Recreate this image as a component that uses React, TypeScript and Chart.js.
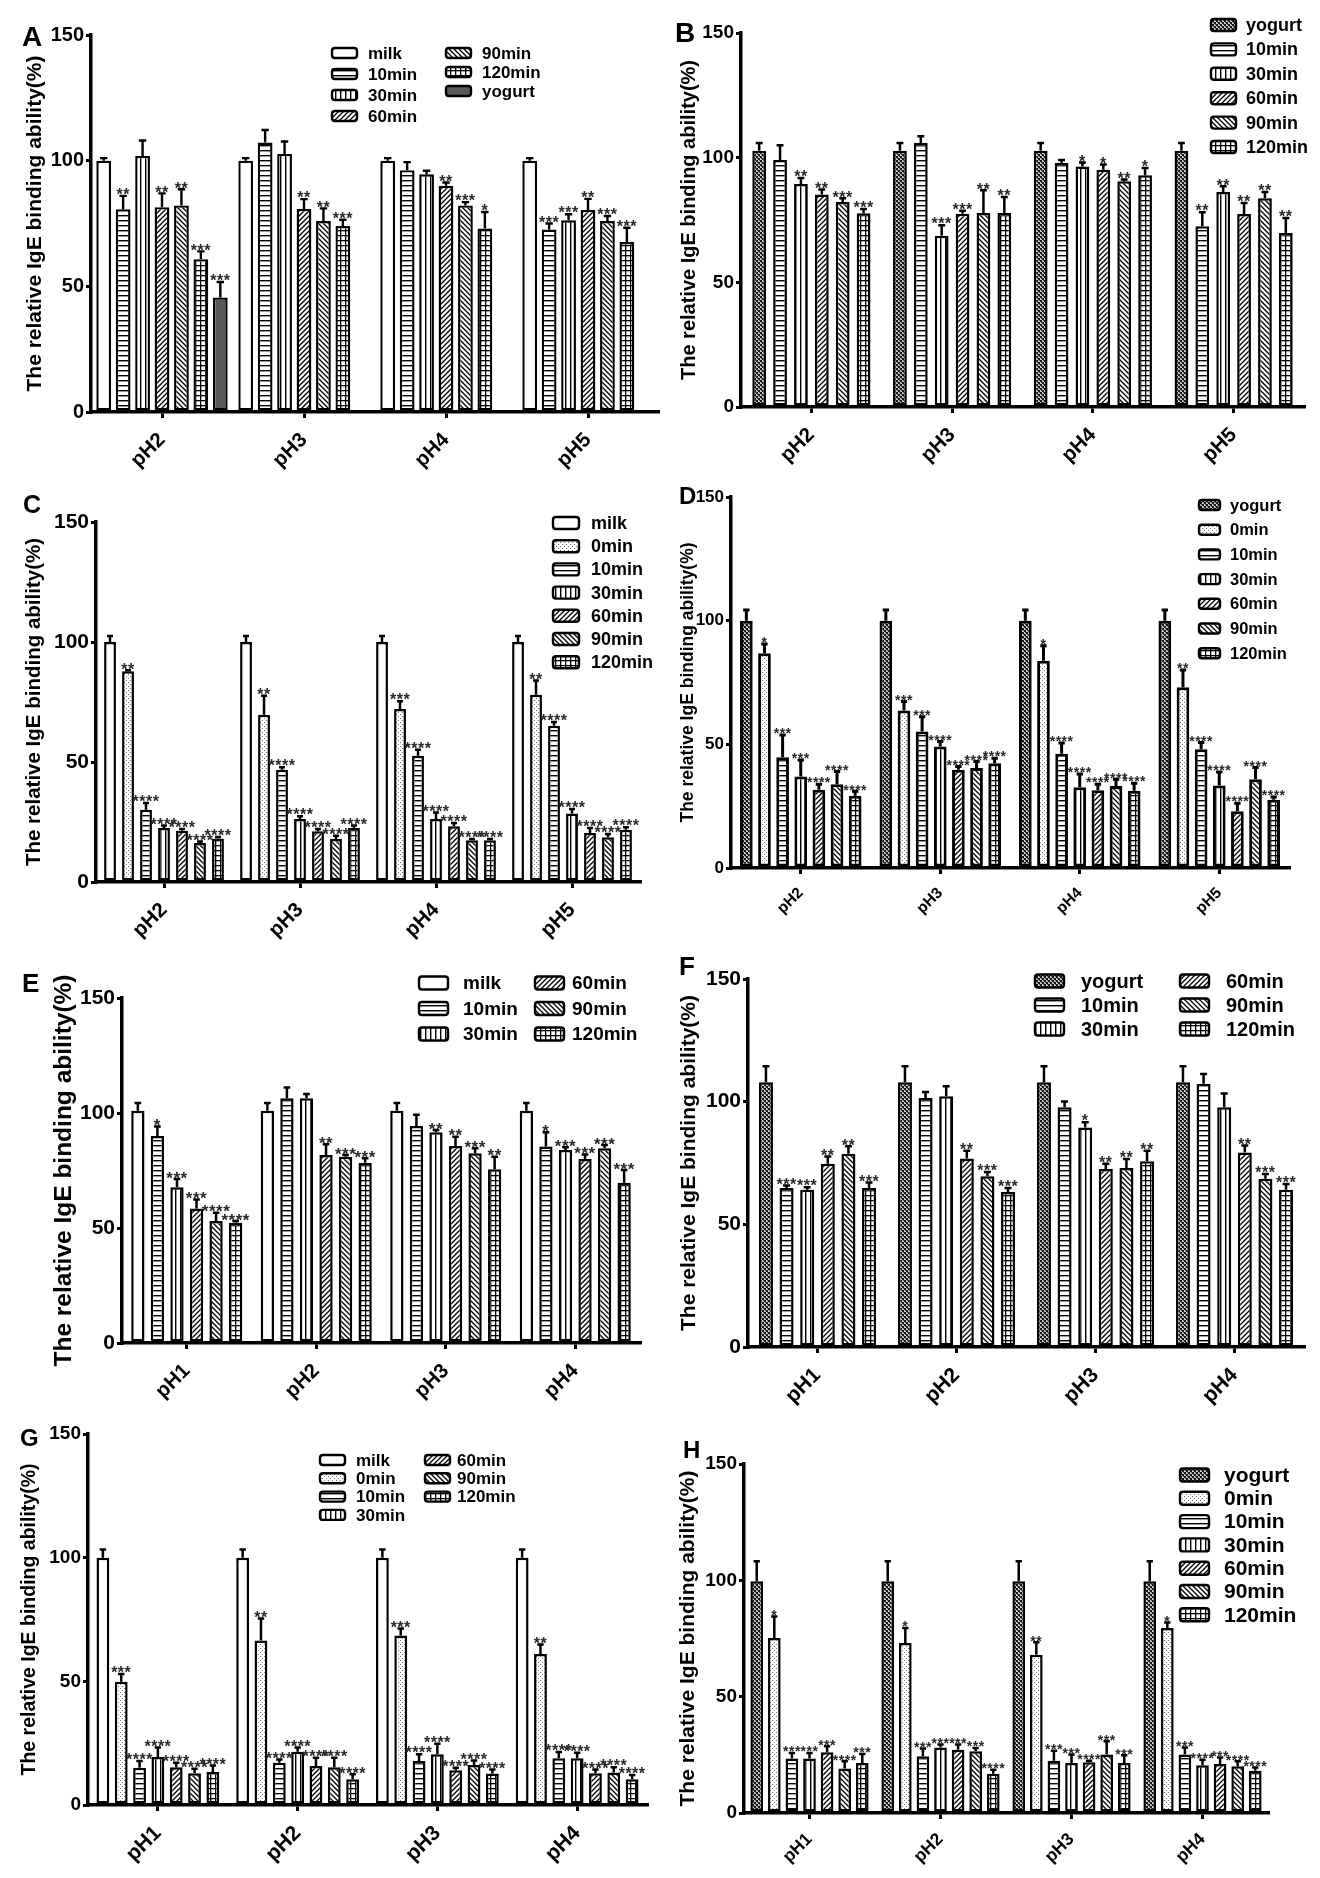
import React, { useEffect, useRef } from 'react';
import { Chart, registerables } from 'chart.js';

Chart.register(...registerables);

const FAMILY = '"Liberation Sans", Arial, Helvetica, sans-serif';
const Y_TITLE = 'The relative IgE binding ability(%)';
const Y_MIN = 0;
const Y_MAX = 150;
const Y_STEP = 50;

const CATS_PH2_5 = ['pH2', 'pH3', 'pH4', 'pH5'];
const CATS_PH1_4 = ['pH1', 'pH2', 'pH3', 'pH4'];

// ---------- Panel A ----------
const A_SERIES = ['milk', '10min', '30min', '60min', '90min', '120min', 'yogurt'];
const A_VALUES = [
  [100, 100, 100, 100],
  [80.7, 107.2, 96.2, 72.6],
  [101.9, 102.7, 94.6, 76.3],
  [81.5, 80.8, 90.0, 80.4],
  [82.2, 76.0, 82.2, 76.0],
  [60.8, 74.0, 73.0, 67.6],
  [45.6, null, null, null],
];
const A_ERRORS = [
  [1, 1, 1, 1],
  [5.3, 5.0, 3.2, 2.4],
  [6.1, 4.9, 1.4, 2.4],
  [5.5, 3.9, 1.3, 4.4],
  [6.4, 5.0, 1.3, 2.0],
  [3.1, 2.5, 6.6, 5.7],
  [6.1, null, null, null],
];
const A_STARS = [
  ['', '', '', ''],
  ['**', '', '', '***'],
  ['', '', '', '***'],
  ['**', '**', '**', '**'],
  ['**', '**', '***', '***'],
  ['***', '***', '*', '***'],
  ['***', '', '', ''],
];

// ---------- Panel B ----------
const B_SERIES = ['yogurt', '10min', '30min', '60min', '90min', '120min'];
const B_VALUES = [
  [102.8, 102.8, 102.8, 102.8],
  [99.1, 105.9, 97.9, 72.5],
  [89.4, 68.7, 96.5, 86.2],
  [85.2, 77.5, 95.2, 77.4],
  [82.2, 77.8, 90.5, 83.7],
  [77.7, 77.8, 92.9, 69.8],
];
const B_ERRORS = [
  [3.1, 3.1, 3.1, 3.1],
  [5.9, 2.7, 1.2, 5.6],
  [2.4, 4.2, 1.6, 2.3],
  [2.0, 1.2, 2.1, 4.4],
  [1.5, 9.1, 0.7, 2.5],
  [1.7, 6.4, 3.0, 6.0],
];
const B_STARS = [
  ['', '', '', ''],
  ['', '', '', '**'],
  ['**', '***', '*', '**'],
  ['**', '***', '*', '**'],
  ['***', '**', '**', '**'],
  ['***', '**', '*', '**'],
];

// ---------- Panel C ----------
const C_SERIES = ['milk', '0min', '10min', '30min', '60min', '90min', '120min'];
const C_VALUES = [
  [100, 100, 100, 100],
  [87.8, 69.7, 72.1, 78.0],
  [30.1, 46.8, 52.6, 65.1],
  [22.5, 26.3, 26.3, 28.5],
  [21.4, 21.1, 23.2, 20.4],
  [16.3, 17.9, 17.4, 18.6],
  [18.1, 22.5, 17.4, 21.8],
];
const C_ERRORS = [
  [2.5, 2.5, 2.5, 2.5],
  [0.4, 7.9, 3.2, 6.0],
  [2.8, 1.0, 2.5, 1.6],
  [1.0, 1.1, 2.7, 1.9],
  [0.7, 1.0, 1.4, 2.1],
  [0.6, 1.4, 0.5, 1.4],
  [0.7, 1.0, 0.5, 1.0],
];
const C_STARS = [
  ['', '', '', ''],
  ['**', '**', '***', '**'],
  ['****', '****', '****', '****'],
  ['****', '****', '****', '****'],
  ['****', '****', '****', '****'],
  ['****', '****', '****', '****'],
  ['****', '****', '****', '****'],
];

// ---------- Panel D ----------
const D_SERIES = ['yogurt', '0min', '10min', '30min', '60min', '90min', '120min'];
const D_VALUES = [
  [100, 100, 100, 100],
  [86.8, 63.7, 83.8, 73.1],
  [44.8, 55.2, 46.2, 48.0],
  [37.0, 49.1, 32.6, 33.4],
  [31.6, 39.7, 31.4, 22.9],
  [33.9, 40.4, 33.2, 35.9],
  [29.2, 42.4, 31.2, 27.6],
];
const D_ERRORS = [
  [4.3, 4.3, 4.3, 4.3],
  [3.8, 3.6, 6.1, 7.0],
  [9.0, 6.0, 4.3, 2.7],
  [6.7, 2.0, 5.4, 5.4],
  [2.3, 1.3, 2.5, 3.3],
  [5.1, 2.7, 2.7, 4.7],
  [1.8, 2.0, 3.1, 1.1],
];
const D_STARS = [
  ['', '', '', ''],
  ['*', '***', '*', '**'],
  ['***', '***', '****', '****'],
  ['***', '****', '****', '****'],
  ['****', '****', '****', '****'],
  ['****', '****', '****', '****'],
  ['****', '****', '****', '****'],
];

// ---------- Panel E ----------
const E_SERIES = ['milk', '10min', '30min', '60min', '90min', '120min'];
const E_VALUES = [
  [101, 101, 101, 101],
  [90.0, 106.4, 94.4, 85.4],
  [67.7, 106.4, 91.6, 83.9],
  [58.5, 81.7, 85.7, 80.0],
  [53.0, 81.0, 82.5, 84.7],
  [52.3, 78.4, 75.5, 69.7],
];
const E_ERRORS = [
  [3.3, 3.3, 3.3, 3.3],
  [4.1, 4.7, 4.8, 6.2],
  [3.6, 1.9, 1.0, 1.2],
  [3.9, 4.7, 4.0, 2.0],
  [3.6, 0.7, 2.2, 1.4],
  [0.7, 1.9, 5.5, 5.5],
];
const E_STARS = [
  ['', '', '', ''],
  ['*', '', '', '*'],
  ['***', '', '**', '***'],
  ['***', '**', '**', '***'],
  ['****', '***', '***', '***'],
  ['****', '***', '**', '***'],
];

// ---------- Panel F ----------
const F_SERIES = ['yogurt', '10min', '30min', '60min', '90min', '120min'];
const F_VALUES = [
  [107.9, 107.9, 107.9, 107.9],
  [64.8, 101.5, 97.7, 107.3],
  [64.1, 102.2, 89.5, 97.7],
  [74.7, 76.8, 72.6, 79.3],
  [78.8, 69.6, 73.0, 68.6],
  [64.8, 63.2, 75.7, 64.1],
];
const F_ERRORS = [
  [6.5, 6.5, 6.5, 6.5],
  [1.0, 2.4, 2.4, 4.0],
  [1.0, 4.1, 2.1, 5.6],
  [3.0, 3.2, 2.1, 2.8],
  [3.0, 1.7, 3.6, 1.9],
  [2.3, 1.6, 4.3, 2.3],
];
const F_STARS = [
  ['', '', '', ''],
  ['***', '', '', ''],
  ['***', '', '*', ''],
  ['**', '**', '**', '**'],
  ['**', '***', '**', '***'],
  ['***', '***', '**', '***'],
];

// ---------- Panel G ----------
const G_SERIES = ['milk', '0min', '10min', '30min', '60min', '90min', '120min'];
const G_VALUES = [
  [100, 100, 100, 100],
  [49.8, 66.5, 68.5, 61.1],
  [15.1, 17.1, 17.8, 18.9],
  [19.4, 21.5, 20.5, 18.9],
  [15.3, 15.8, 14.0, 12.8],
  [12.8, 15.3, 16.2, 13.1],
  [13.3, 10.4, 12.7, 10.4],
];
const G_ERRORS = [
  [3.3, 3.3, 3.3, 3.3],
  [3.2, 8.9, 2.9, 3.8],
  [2.7, 1.3, 2.7, 2.5],
  [3.8, 1.7, 4.3, 2.2],
  [1.8, 3.3, 1.1, 1.6],
  [1.9, 3.8, 1.8, 2.2],
  [2.7, 2.0, 1.7, 1.7],
];
const G_STARS = [
  ['', '', '', ''],
  ['***', '**', '***', '**'],
  ['****', '****', '****', '****'],
  ['****', '****', '****', '****'],
  ['****', '****', '****', '****'],
  ['****', '****', '****', '****'],
  ['****', '****', '****', '****'],
];

// ---------- Panel H ----------
const H_SERIES = ['yogurt', '0min', '10min', '30min', '60min', '90min', '120min'];
const H_VALUES = [
  [99.6, 99.6, 99.6, 99.6],
  [75.2, 73.1, 68.0, 79.5],
  [23.4, 24.4, 22.5, 25.1],
  [23.4, 28.2, 21.5, 20.5],
  [26.1, 27.2, 21.8, 21.1],
  [19.1, 26.5, 25.1, 20.1],
  [21.5, 16.9, 21.5, 18.2],
];
const H_ERRORS = [
  [8.6, 8.6, 8.6, 8.6],
  [9.3, 6.4, 5.4, 2.4],
  [2.4, 3.3, 4.3, 3.1],
  [2.4, 1.2, 3.6, 2.4],
  [2.6, 2.2, 0.7, 2.8],
  [3.1, 1.4, 5.7, 2.1],
  [3.9, 1.7, 3.3, 1.4],
];
const H_STARS = [
  ['', '', '', ''],
  ['*', '*', '**', '*'],
  ['***', '***', '***', '***'],
  ['***', '***', '***', '****'],
  ['***', '***', '****', '***'],
  ['****', '***', '***', '****'],
  ['***', '****', '***', '****'],
];

// ---------- layout / style (not data) ----------
type LegendCol = { x: number; y: number; dy: number; tdx: number; items: number[] };
type PanelCfg = {
  letter: string;
  cats: string[];
  series: string[];
  values: (number | null)[][];
  errors: (number | null)[][];
  stars: string[][];
  cx: number; cy: number; w: number; h: number;
  left: number; right: number; top: number; bottom: number;
  catPct: number; barPct: number;
  tickFont: number; xFont: number; titleFont: number; titleX: number;
  legendFont: number; boxW: number; boxH: number; legend: LegendCol[];
  letterX: number; letterY: number; letterSize: number;
  starSize: number; border: number; solidYogurt?: boolean;
};

const PANELS: PanelCfg[] = [
  {
    letter: 'A', cats: CATS_PH2_5, series: A_SERIES, values: A_VALUES, errors: A_ERRORS, stars: A_STARS,
    cx: 0, cy: 0, w: 660, h: 470, left: 91, right: 659, top: 35, bottom: 412,
    catPct: 0.958, barPct: 0.76, tickFont: 20, xFont: 20.5, titleFont: 21, titleX: 35,
    legendFont: 17, boxW: 25, boxH: 10,
    legend: [
      { x: 332, y: 53, dy: 21, tdx: 36, items: [0, 1, 2, 3] },
      { x: 446, y: 53, dy: 19, tdx: 36, items: [4, 5, 6] },
    ],
    letterX: 22, letterY: 46, letterSize: 28, starSize: 16, border: 2.4, solidYogurt: true,
  },
  {
    letter: 'B', cats: CATS_PH2_5, series: B_SERIES, values: B_VALUES, errors: B_ERRORS, stars: B_STARS,
    cx: 660, cy: 0, w: 660, h: 470, left: 81, right: 644, top: 33, bottom: 407,
    catPct: 0.89, barPct: 0.66, tickFont: 19, xFont: 20.5, titleFont: 20, titleX: 29,
    legendFont: 18, boxW: 25, boxH: 12,
    legend: [{ x: 551, y: 25, dy: 24.4, tdx: 35, items: [0, 1, 2, 3, 4, 5] }],
    letterX: 15, letterY: 42, letterSize: 28, starSize: 16, border: 2.5,
  },
  {
    letter: 'C', cats: CATS_PH2_5, series: C_SERIES, values: C_VALUES, errors: C_ERRORS, stars: C_STARS,
    cx: 0, cy: 470, w: 660, h: 470, left: 96, right: 640, top: 52, bottom: 412,
    catPct: 0.926, barPct: 0.66, tickFont: 21, xFont: 20.5, titleFont: 20.5, titleX: 34,
    legendFont: 18, boxW: 26, boxH: 12,
    legend: [{ x: 553, y: 53, dy: 23.2, tdx: 38, items: [0, 1, 2, 3, 4, 5, 6] }],
    letterX: 23, letterY: 43, letterSize: 25, starSize: 16, border: 2.5,
  },
  {
    letter: 'D', cats: CATS_PH2_5, series: D_SERIES, values: D_VALUES, errors: D_ERRORS, stars: D_STARS,
    cx: 660, cy: 470, w: 660, h: 470, left: 71, right: 629, top: 27, bottom: 398,
    catPct: 0.91, barPct: 0.7, tickFont: 17, xFont: 15.5, titleFont: 17.5, titleX: 28,
    legendFont: 16.5, boxW: 21, boxH: 10,
    legend: [{ x: 539, y: 35, dy: 24.7, tdx: 31, items: [0, 1, 2, 3, 4, 5, 6] }],
    letterX: 19, letterY: 34, letterSize: 24, starSize: 14, border: 3,
  },
  {
    letter: 'E', cats: CATS_PH1_4, series: E_SERIES, values: E_VALUES, errors: E_ERRORS, stars: E_STARS,
    cx: 0, cy: 940, w: 660, h: 468, left: 122, right: 640, top: 58, bottom: 403,
    catPct: 0.906, barPct: 0.68, tickFont: 21, xFont: 20.5, titleFont: 24.5, titleX: 64,
    legendFont: 19, boxW: 29, boxH: 13,
    legend: [
      { x: 419, y: 43, dy: 25.5, tdx: 44, items: [0, 1, 2] },
      { x: 535, y: 43, dy: 25.5, tdx: 37, items: [3, 4, 5] },
    ],
    letterX: 22, letterY: 52, letterSize: 26, starSize: 17, border: 2.5,
  },
  {
    letter: 'F', cats: CATS_PH1_4, series: F_SERIES, values: F_VALUES, errors: F_ERRORS, stars: F_STARS,
    cx: 660, cy: 940, w: 660, h: 468, left: 88, right: 644, top: 39, bottom: 407,
    catPct: 0.89, barPct: 0.68, tickFont: 21, xFont: 21, titleFont: 21, titleX: 29,
    legendFont: 20, boxW: 29, boxH: 13,
    legend: [
      { x: 375, y: 41, dy: 24, tdx: 46, items: [0, 1, 2] },
      { x: 520, y: 41, dy: 24, tdx: 46, items: [3, 4, 5] },
    ],
    letterX: 19, letterY: 35, letterSize: 26, starSize: 16, border: 2.5,
  },
  {
    letter: 'G', cats: CATS_PH1_4, series: G_SERIES, values: G_VALUES, errors: G_ERRORS, stars: G_STARS,
    cx: 0, cy: 1408, w: 660, h: 470, left: 88, right: 647, top: 26, bottom: 397,
    catPct: 0.918, barPct: 0.7, tickFont: 19, xFont: 21, titleFont: 19.5, titleX: 30,
    legendFont: 17, boxW: 25, boxH: 10,
    legend: [
      { x: 320, y: 52, dy: 18.3, tdx: 36, items: [0, 1, 2, 3] },
      { x: 425, y: 52, dy: 18.3, tdx: 32, items: [4, 5, 6] },
    ],
    letterX: 20, letterY: 38, letterSize: 24, starSize: 16, border: 2.5,
  },
  {
    letter: 'H', cats: CATS_PH1_4, series: H_SERIES, values: H_VALUES, errors: H_ERRORS, stars: H_STARS,
    cx: 660, cy: 1408, w: 660, h: 470, left: 84, right: 608, top: 56, bottom: 405,
    catPct: 0.94, barPct: 0.72, tickFont: 19, xFont: 17.5, titleFont: 21, titleX: 28,
    legendFont: 21, boxW: 29, boxH: 13,
    legend: [{ x: 520, y: 67, dy: 23.3, tdx: 44, items: [0, 1, 2, 3, 4, 5, 6] }],
    letterX: 23, letterY: 50, letterSize: 24, starSize: 14, border: 2.5,
  },
];

type Fills = Record<string, CanvasPattern | string>;

function makeTile(w: number, h: number, draw: (g: CanvasRenderingContext2D) => void): CanvasPattern | string {
  const c = document.createElement('canvas');
  c.width = w;
  c.height = h;
  const g = c.getContext('2d');
  if (!g) return '#fff';
  g.fillStyle = '#fff';
  g.fillRect(0, 0, w, h);
  draw(g);
  return g.createPattern(c, 'repeat') || '#fff';
}

function makeFills(): Fills {
  return {
    white: '#ffffff',
    gray: '#595959',
    hline: makeTile(5, 5, (g) => { g.fillStyle = '#000'; g.fillRect(0, 0, 5, 1.4); }),
    vline: makeTile(5, 5, (g) => { g.fillStyle = '#000'; g.fillRect(0, 0, 1.4, 5); }),
    diagR: makeTile(5, 5, (g) => {
      g.strokeStyle = '#000'; g.lineWidth = 1.3; g.beginPath();
      g.moveTo(0, 5); g.lineTo(5, 0); g.moveTo(-1, 1); g.lineTo(1, -1); g.moveTo(4, 6); g.lineTo(6, 4);
      g.stroke();
    }),
    diagL: makeTile(5, 5, (g) => {
      g.strokeStyle = '#000'; g.lineWidth = 1.3; g.beginPath();
      g.moveTo(0, 0); g.lineTo(5, 5); g.moveTo(-1, 4); g.lineTo(1, 6); g.moveTo(4, -1); g.lineTo(6, 1);
      g.stroke();
    }),
    grid: makeTile(5, 5, (g) => { g.fillStyle = '#000'; g.fillRect(0, 0, 5, 1.3); g.fillRect(0, 0, 1.3, 5); }),
    dots: makeTile(4, 4, (g) => { g.fillStyle = '#777'; g.fillRect(0, 0, 1, 1); g.fillRect(2, 2, 1, 1); }),
    checker: makeTile(4, 4, (g) => {
      g.fillStyle = '#cfcfcf'; g.fillRect(0, 0, 4, 4);
      g.fillStyle = '#151515'; g.fillRect(0, 0, 2, 2); g.fillRect(2, 2, 2, 2);
      g.fillStyle = '#555'; g.fillRect(3, 0, 1, 1); g.fillRect(1, 2, 1, 1);
    }),
  };
}

function fillFor(name: string, cfg: PanelCfg, fills: Fills) {
  switch (name) {
    case 'milk': return fills.white;
    case 'yogurt': return cfg.solidYogurt ? fills.gray : fills.checker;
    case '0min': return fills.dots;
    case '10min': return fills.hline;
    case '30min': return fills.vline;
    case '60min': return fills.diagR;
    case '90min': return fills.diagL;
    case '120min': return fills.grid;
    default: return fills.white;
  }
}

function roundRect(ctx: CanvasRenderingContext2D, x: number, y: number, w: number, h: number, r: number) {
  ctx.beginPath();
  ctx.moveTo(x + r, y);
  ctx.lineTo(x + w - r, y);
  ctx.quadraticCurveTo(x + w, y, x + w, y + r);
  ctx.lineTo(x + w, y + h - r);
  ctx.quadraticCurveTo(x + w, y + h, x + w - r, y + h);
  ctx.lineTo(x + r, y + h);
  ctx.quadraticCurveTo(x, y + h, x, y + h - r);
  ctx.lineTo(x, y + r);
  ctx.quadraticCurveTo(x, y, x + r, y);
  ctx.closePath();
}

function overlayPlugin(cfg: PanelCfg) {
  return {
    id: 'overlay' + cfg.letter,
    afterDatasetsDraw(chart: any) {
      const ctx: any = chart.ctx;
      const ys = chart.scales.y;
      ctx.save();
      cfg.series.forEach((_, di) => {
        const meta = chart.getDatasetMeta(di);
        meta.data.forEach((bar: any, ci: number) => {
          const v = cfg.values[di][ci];
          if (v === null || v === undefined) return;
          const e = cfg.errors[di][ci] || 0;
          const p = bar.getProps(['x', 'width'], true);
          const yTop = ys.getPixelForValue(v);
          const yErr = ys.getPixelForValue(v + e);
          ctx.strokeStyle = '#000';
          ctx.lineWidth = cfg.border;
          ctx.lineCap = 'butt';
          ctx.beginPath();
          ctx.moveTo(p.x, yTop);
          ctx.lineTo(p.x, yErr);
          const cw = (p.width * 0.5) / 2;
          ctx.moveTo(p.x - cw, yErr);
          ctx.lineTo(p.x + cw, yErr);
          ctx.stroke();
          const s = cfg.stars[di] ? cfg.stars[di][ci] : '';
          if (s) {
            ctx.font = `bold ${cfg.starSize}px ${FAMILY}`;
            ctx.fillStyle = '#2a2a2a';
            ctx.textAlign = 'center';
            ctx.textBaseline = 'alphabetic';
            try { ctx.letterSpacing = '0.5px'; } catch (err) { /* ignore */ }
            ctx.fillText(s, p.x, yErr - 3 + 0.45 * cfg.starSize);
            try { ctx.letterSpacing = '0px'; } catch (err) { /* ignore */ }
          }
        });
      });
      ctx.restore();
    },
    afterDraw(chart: any) {
      const ctx: CanvasRenderingContext2D = chart.ctx;
      ctx.save();
      cfg.legend.forEach((col) => {
        col.items.forEach((di, k) => {
          const ds = chart.data.datasets[di];
          const cy = col.y + k * col.dy;
          const bx = col.x;
          const by = cy - cfg.boxH / 2;
          roundRect(ctx, bx, by, cfg.boxW, cfg.boxH, 3);
          ctx.fillStyle = ds.backgroundColor;
          ctx.fill();
          ctx.lineWidth = 2.4;
          ctx.strokeStyle = '#000';
          ctx.stroke();
          ctx.fillStyle = '#000';
          ctx.font = `bold ${cfg.legendFont}px ${FAMILY}`;
          ctx.textAlign = 'left';
          ctx.textBaseline = 'middle';
          ctx.fillText(ds.label, bx + col.tdx, cy + 1);
        });
      });
      ctx.fillStyle = '#000';
      ctx.font = `bold ${cfg.letterSize}px ${FAMILY}`;
      ctx.textAlign = 'left';
      ctx.textBaseline = 'alphabetic';
      ctx.fillText(cfg.letter, cfg.letterX, cfg.letterY);
      ctx.restore();
    },
  };
}

function Panel({ cfg }: { cfg: PanelCfg }) {
  const ref = useRef<HTMLCanvasElement>(null);
  useEffect(() => {
    const canvas = ref.current;
    if (!canvas) return;
    const fills = makeFills();
    const datasets = cfg.series.map((name, i) => ({
      label: name,
      data: cfg.values[i],
      backgroundColor: fillFor(name, cfg, fills),
      borderColor: '#000',
      borderWidth: cfg.border,
      borderSkipped: false,
      categoryPercentage: cfg.catPct,
      barPercentage: cfg.barPct,
    }));
    const chart = new Chart(canvas, {
      type: 'bar',
      data: { labels: cfg.cats, datasets: datasets as any },
      options: {
        responsive: false,
        animation: false,
        events: [],
        layout: { padding: { left: 0, top: cfg.top, right: cfg.w - cfg.right, bottom: 0 } },
        plugins: { legend: { display: false }, tooltip: { enabled: false } },
        scales: {
          x: {
            type: 'category',
            offset: true,
            grid: { offset: false, drawOnChartArea: false, drawTicks: true, tickLength: 6, color: '#000', lineWidth: 3 },
            border: { display: true, color: '#000', width: 3.5 },
            ticks: {
              color: '#000',
              font: { family: FAMILY, size: cfg.xFont, weight: 'bold' },
              minRotation: 45,
              maxRotation: 45,
              autoSkip: false,
              padding: 10,
            },
            afterFit: (s: any) => { s.height = cfg.h - cfg.bottom; },
          },
          y: {
            min: Y_MIN,
            max: Y_MAX,
            ticks: { stepSize: Y_STEP, color: '#000', font: { family: FAMILY, size: cfg.tickFont, weight: 'bold' }, padding: 2 },
            grid: { drawOnChartArea: false, drawTicks: true, tickLength: 5, color: '#000', lineWidth: 3 },
            border: { display: true, color: '#000', width: 3.5 },
            title: {
              display: true,
              text: Y_TITLE,
              color: '#000',
              font: { family: FAMILY, size: cfg.titleFont, weight: 'bold' },
              padding: { top: cfg.titleX - cfg.titleFont * 0.6, bottom: 0 },
            },
            afterFit: (s: any) => { s.width = cfg.left; },
          },
        },
      } as any,
      plugins: [overlayPlugin(cfg)],
    });
    return () => chart.destroy();
  }, [cfg]);
  return (
    <canvas
      ref={ref}
      width={cfg.w}
      height={cfg.h}
      style={{ position: 'absolute', left: cfg.cx, top: cfg.cy, width: cfg.w, height: cfg.h }}
    />
  );
}

export default function App() {
  return (
    <div style={{ position: 'absolute', left: 0, top: 0, width: 1320, height: 1878, background: '#fff', overflow: 'hidden' }}>
      {PANELS.map((p) => (
        <Panel key={p.letter} cfg={p} />
      ))}
    </div>
  );
}
